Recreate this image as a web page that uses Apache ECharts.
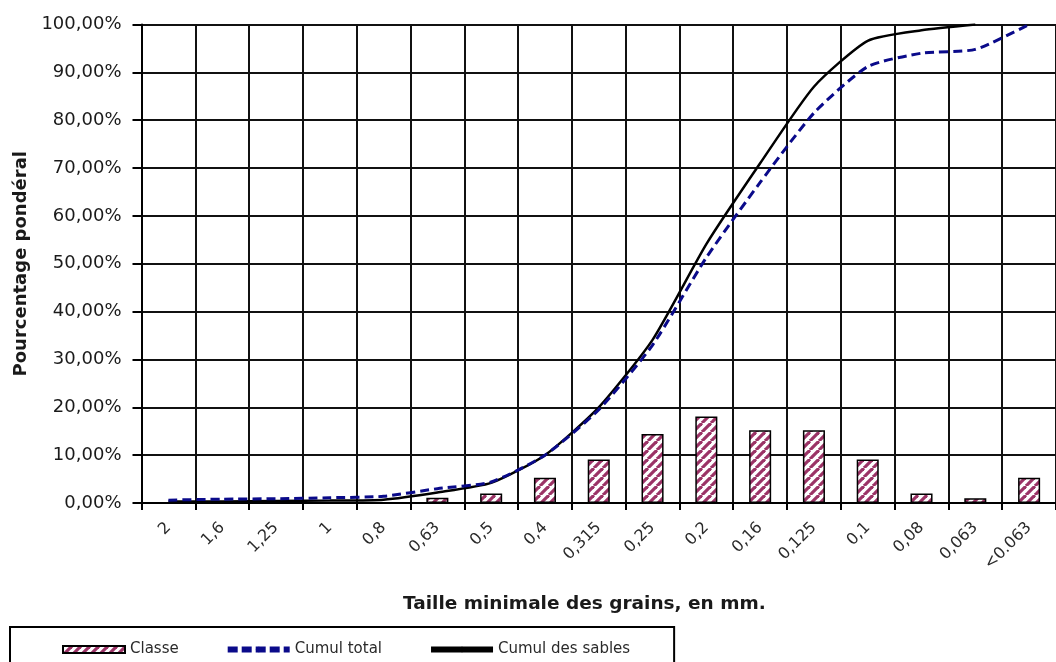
<!DOCTYPE html>
<html>
<head>
<meta charset="utf-8">
<title>Granulométrie</title>
<script src="https://cdn.jsdelivr.net/npm/echarts@6/dist/echarts.min.js"></script>
<style>
  html, body { margin: 0; padding: 0; background: #fff; }
  #chart { width: 1056px; height: 662px; }
</style>
</head>
<body>
<div id="chart"></div>
<script>
// tailles minimales des grains (mm)
const categories = ['2', '1,6', '1,25', '1', '0,8', '0,63', '0,5', '0,4', '0,315', '0,25',
  '0,2', '0,16', '0,125', '0,1', '0,08', '0,063', '<0.063'];
// pourcentages par classe
const classe = ['-', '-', '-', '-', '-', 1.1, 2.0, 5.3, 9.1, 14.4, 18.1, 15.2, 15.2, 9.1, 2.0, 1.0, 5.3];
const cumulTotal = [0.6, 0.8, 0.9, 1.1, 1.4, 3.0, 4.4, 10.0, 19.5, 33.0, 51.3, 67.0, 81.5, 91.2, 94.0, 94.8, 100];
const cumulSables = [0.3, 0.3, 0.4, 0.5, 0.7, 2.2, 4.2, 10.0, 20.0, 34.1, 54.1, 71.0, 87.0, 96.6, 98.8, 100, '-'];
const yTicks = [0, 10, 20, 30, 40, 50, 60, 70, 80, 90, 100];

// motif hachuré des barres
function hatch() {
  let n = 9;
  let c = document.createElement('canvas');
  c.width = n; c.height = n;
  let ctx = c.getContext('2d');
  ctx.fillStyle = '#fff';
  ctx.fillRect(0, 0, n, n);
  ctx.strokeStyle = '#9b3366';
  ctx.lineWidth = 3.2;
  for (let k = -1; k <= 1; k++) {
    ctx.beginPath();
    ctx.moveTo(k * n, n);
    ctx.lineTo(k * n + n, 0);
    ctx.stroke();
  }
  return c;
}

const font = 'DejaVu Sans';
const txt = '#1a1a1a';

let chart = echarts.init(document.getElementById('chart'));
chart.setOption({
  animation: false,
  title: {
    text: 'Taille minimale des grains, en mm.',
    left: 403,
    top: 595,
    padding: 0,
    textStyle: { fontFamily: font, fontSize: 18.5, fontWeight: 'bold', color: txt }
  },
  legend: {
    left: 10,
    top: 627,
    padding: [15, 44, 25, 52],
    borderColor: '#000',
    borderWidth: 2,
    itemWidth: 62,
    itemHeight: 7,
    itemGap: 46,
    textStyle: { fontFamily: font, fontSize: 15, color: '#2a2a2a' },
    data: [
      { name: 'Classe', icon: 'rect' },
      { name: 'Cumul total', lineStyle: { width: 6, type: [10, 4] } },
      { name: 'Cumul des sables', lineStyle: { width: 6 } }
    ]
  },
  grid: { left: 141.5, top: 24.5, width: 928, height: 478.5 },
  xAxis: {
    type: 'category',
    data: categories,
    boundaryGap: true,
    axisLine: { lineStyle: { color: '#000', width: 2 } },
    axisTick: { show: true, length: 7, interval: 0, lineStyle: { color: '#000', width: 2 } },
    splitLine: { show: true, interval: 0, lineStyle: { color: '#111', width: 2 } },
    axisLabel: {
      interval: 0, rotate: 45, margin: 22,
      fontFamily: font, fontSize: 16, color: '#2a2a2a'
    }
  },
  yAxis: {
    type: 'value',
    min: 0,
    max: 100,
    interval: 10,
    name: 'Pourcentage pondéral',
    nameLocation: 'middle',
    nameGap: 100,
    nameTextStyle: { fontFamily: font, fontSize: 18, fontWeight: 'bold', color: txt },
    axisLine: { show: true, lineStyle: { color: '#000', width: 2 } },
    axisTick: { show: true, length: 9, lineStyle: { color: '#000', width: 2 } },
    splitLine: { show: true, lineStyle: { color: '#111', width: 2 } },
    axisLabel: {
      margin: 20,
      fontFamily: font, fontSize: 18, color: txt,
      formatter: function (v) { return yTicks.indexOf(v) >= 0 ? v + ',00%' : ''; }
    }
  },
  series: [
    {
      name: 'Classe',
      type: 'bar',
      data: classe,
      barWidth: '41%',
      itemStyle: {
        color: { image: hatch(), repeat: 'repeat' },
        borderColor: '#000',
        borderWidth: 1.5
      }
    },
    {
      name: 'Cumul des sables',
      type: 'line',
      data: cumulSables,
      symbol: 'none',
      smooth: 0.2,
      lineStyle: { color: '#000', width: 2.5 },
      itemStyle: { color: '#000' }
    },
    {
      name: 'Cumul total',
      type: 'line',
      data: cumulTotal,
      symbol: 'none',
      smooth: 0.2,
      lineStyle: { color: '#0a0a8a', width: 3, type: [9, 5] },
      itemStyle: { color: '#0a0a8a' }
    }
  ]
});
</script>
</body>
</html>
